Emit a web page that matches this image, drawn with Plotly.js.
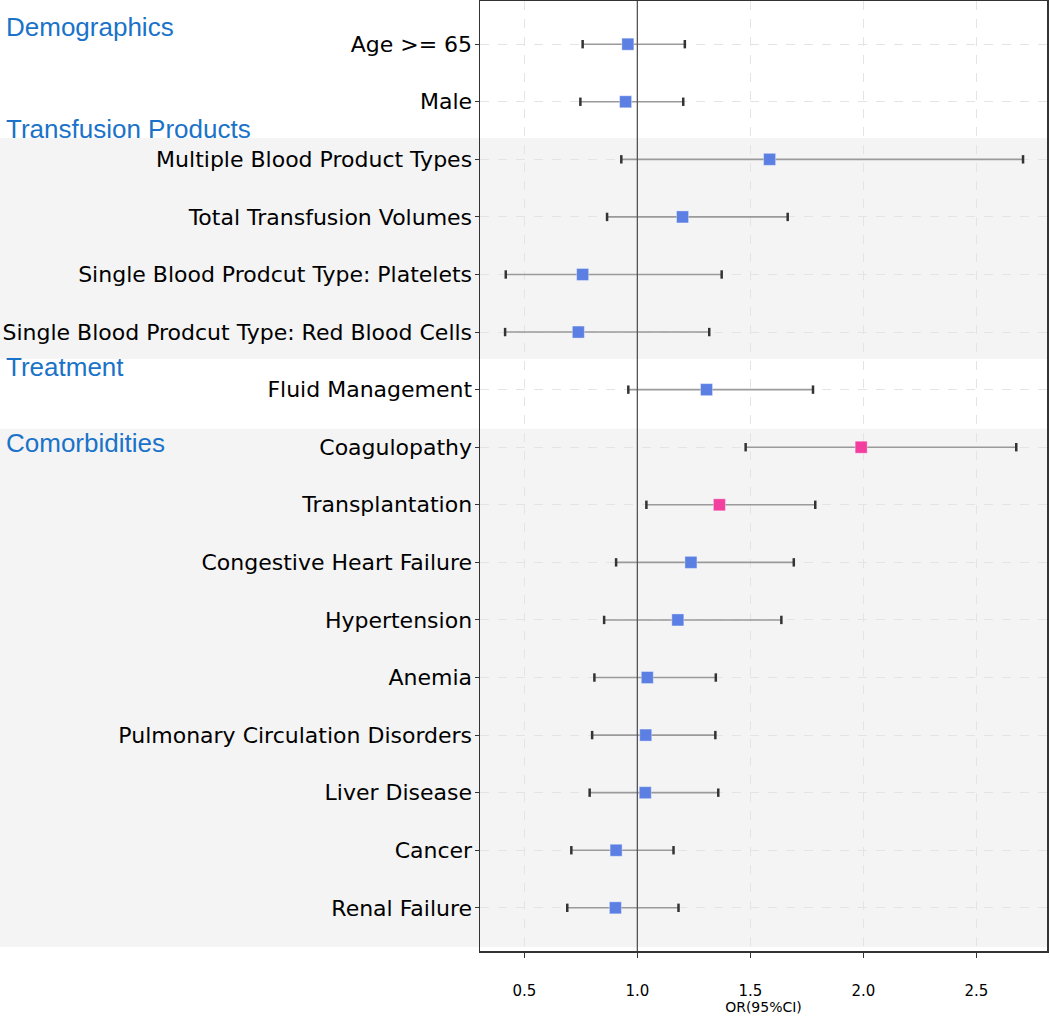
<!DOCTYPE html>
<html>
<head>
<meta charset="utf-8">
<script src="https://cdn.plot.ly/plotly-3.0.1.min.js"></script>
<style>html,body{margin:0;padding:0;background:#fff;}#chart{width:1050px;height:1018px;}</style>
</head>
<body>
<div id="chart"></div>
<script>
// ---- data ----
const labels = [
  "Age >= 65", "Male",
  "Multiple Blood Product Types", "Total Transfusion Volumes",
  "Single Blood Prodcut Type: Platelets", "Single Blood Prodcut Type: Red Blood Cells",
  "Fluid Management",
  "Coagulopathy", "Transplantation", "Congestive Heart Failure", "Hypertension",
  "Anemia", "Pulmonary Circulation Disorders", "Liver Disease", "Cancer", "Renal Failure"
];
const orValues = [0.958, 0.948, 1.585, 1.200, 0.758, 0.739, 1.306, 1.990, 1.363, 1.237, 1.179, 1.044, 1.037, 1.035, 0.906, 0.903];
const ciLow    = [0.758, 0.748, 0.929, 0.866, 0.418, 0.415, 0.960, 1.479, 1.040, 0.906, 0.853, 0.810, 0.800, 0.789, 0.708, 0.690];
const ciHigh   = [1.210, 1.203, 2.706, 1.665, 1.373, 1.318, 1.777, 2.676, 1.787, 1.692, 1.637, 1.347, 1.345, 1.358, 1.160, 1.182];
const groupNames = ["Demographics", "Transfusion Products", "Treatment", "Comorbidities"];
const groupSizes = [2, 4, 1, 9];
const xTicks = [0.5, 1.0, 1.5, 2.0, 2.5];

// ---- derived ----
const rows = labels.map((_, i) => i);
const BLUE = "#5b7fe3", PINK = "#f23e9e";
const colors = ciLow.map(l => l > 1 ? PINK : BLUE);

const ciTrace = {
  type: "scatter", mode: "markers", x: orValues, y: rows,
  marker: {size: 1, color: "rgba(0,0,0,0)"},
  error_x: {type: "data", symmetric: false,
    array: ciHigh.map((h, i) => h - orValues[i]),
    arrayminus: ciLow.map((l, i) => orValues[i] - l),
    color: "#9a9a9a", thickness: 1.6, width: 0},
  hoverinfo: "skip", showlegend: false
};
const capTrace = {
  type: "scatter", mode: "markers",
  x: ciLow.concat(ciHigh), y: rows.concat(rows),
  marker: {symbol: "line-ns-open", size: 6, color: "#333333", line: {width: 2.5, color: "#333333"}},
  hoverinfo: "skip", showlegend: false
};
const pointTrace = {
  type: "scatter", mode: "markers", x: orValues, y: rows,
  marker: {symbol: "square", size: 12, color: colors, line: {width: 1, color: "rgba(255,255,255,0.35)"}},
  hoverinfo: "skip", showlegend: false
};

// group bands & header positions (layout)
const bandSpans = [[1.63, 5.47], [6.68, 15.68]];
const headerY = [-0.30, 1.47, 5.61, 6.92];

const shapes = bandSpans.map(s => ({
  type: "rect", xref: "paper", yref: "y", x0: -0.86, x1: 1, y0: s[0], y1: s[1],
  fillcolor: "#f4f4f4", line: {width: 0}, layer: "below"
}));
shapes.push({type: "line", xref: "x", yref: "paper", x0: 1, x1: 1, y0: 0, y1: 1,
  line: {color: "#555", width: 1.3}, layer: "above"});

const annotations = groupNames.map((g, i) => ({
  text: g, xref: "paper", yref: "y", x: -0.84, y: headerY[i],
  xanchor: "left", yanchor: "middle", showarrow: false,
  font: {family: "Liberation Sans, Arial, sans-serif", size: 26, color: "#1a73c8"}
}));

const layout = {
  width: 1050, height: 1018,
  margin: {l: 480, r: 3, t: 1, b: 67, pad: 0},
  paper_bgcolor: "#fff", plot_bgcolor: "rgba(0,0,0,0)",
  showlegend: false,
  font: {family: "DejaVu Sans, sans-serif", color: "#000"},
  xaxis: {
    range: [0.304, 2.812], tickvals: xTicks, ticktext: xTicks.map(v => v.toFixed(1)),
    ticks: "outside", ticklen: 5, tickcolor: "#333", tickfont: {size: 15},
    ticklabelstandoff: 20,
    showgrid: true, gridcolor: "#e4e4e4", griddash: "dash", gridwidth: 1,
    showline: true, linecolor: "#333", linewidth: 1.5, mirror: true, zeroline: false,
    title: {text: "OR(95%CI)", font: {size: 14}, standoff: 3}
  },
  yaxis: {
    range: [15.75, -0.75], tickvals: rows, ticktext: labels,
    ticks: "outside", ticklen: 4, tickcolor: "#333", tickfont: {size: 22},
    ticklabelstandoff: -2,
    showgrid: true, gridcolor: "#e4e4e4", griddash: "dash", gridwidth: 1,
    showline: true, linecolor: "#333", linewidth: 1.5, mirror: true, zeroline: false
  },
  shapes: shapes,
  annotations: annotations
};

Plotly.newPlot("chart", [ciTrace, capTrace, pointTrace], layout, {staticPlot: true, displayModeBar: false});
</script>
</body>
</html>
